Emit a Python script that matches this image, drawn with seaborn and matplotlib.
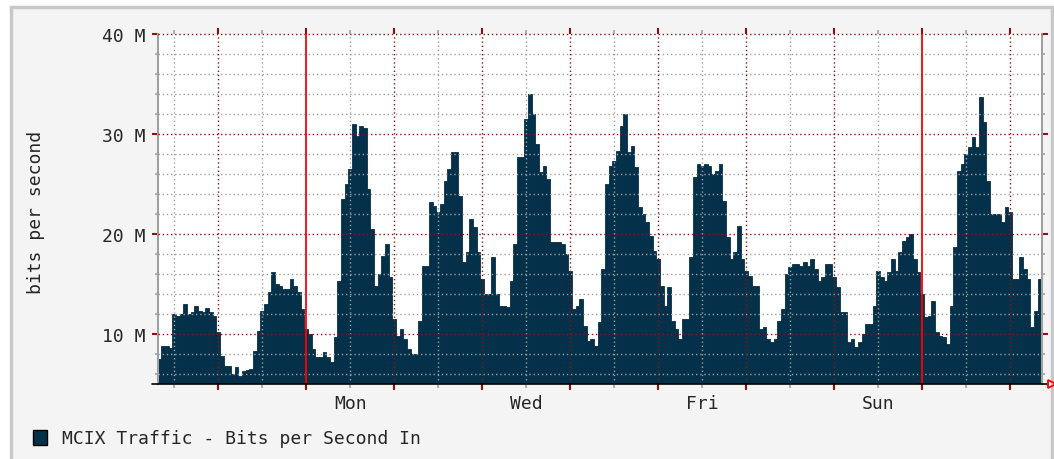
import numpy as np
import pandas as pd
import matplotlib
matplotlib.use("Agg")
import matplotlib.pyplot as plt
from matplotlib.patches import Rectangle
import seaborn as sns

# -----------------------------
# Data (Mbit/s, one value per hour, hour 0 = Monday 00:00)
# -----------------------------

sat_a = [7.5, 8.8, 8.8, 8.6, 12.0, 11.8, 12.0, 13.0, 12.0, 12.2, 12.8, 12.3,
         12.2, 12.6, 12.2, 11.8]
sun_a = [10.2, 7.8, 6.8, 6.8, 6.0, 6.7, 5.8, 6.3, 6.4, 6.5, 8.3, 10.3,
         12.3, 13.0, 14.2, 16.2, 15.0, 14.8, 14.5, 14.5, 15.5, 14.8, 14.2, 12.5]
mon_a = [10.5, 10.0, 8.5, 7.7, 7.7, 8.2, 7.7, 7.2, 9.7, 15.3, 23.5, 25.0,
         26.5, 31.0, 29.8, 30.8, 30.6, 24.5, 20.5, 14.8, 16.0, 17.8, 19.0, 15.7]
tue_a = [11.5, 9.8, 10.5, 9.5, 8.5, 8.0, 8.0, 11.3, 16.8, 16.8, 23.2, 22.8,
         22.2, 23.0, 25.3, 26.5, 28.2, 28.2, 23.8, 17.2, 18.2, 21.5, 20.7, 18.2]
wed_a = [15.5, 14.0, 14.0, 17.7, 14.0, 12.8, 12.8, 12.7, 15.3, 19.0, 27.7, 27.7,
         31.5, 34.0, 32.0, 29.0, 26.2, 26.8, 25.5, 19.2, 19.2, 19.2, 19.0, 18.0]
thu_a = [16.3, 12.5, 12.8, 13.5, 10.8, 9.3, 9.5, 8.8, 11.2, 16.5, 25.0, 26.8,
         27.3, 28.3, 30.8, 32.0, 28.2, 28.8, 26.7, 22.7, 22.0, 21.2, 19.8, 18.3]
fri_a = [17.5, 14.8, 12.8, 14.7, 11.3, 10.5, 9.5, 11.5, 11.5, 17.7, 25.7, 27.0,
         26.8, 27.0, 26.8, 26.0, 26.3, 27.0, 23.3, 19.7, 17.5, 18.2, 20.8, 17.5]
sat_b = [16.3, 15.8, 14.8, 14.8, 10.5, 10.7, 9.5, 9.2, 9.5, 11.3, 12.5, 16.0,
         16.7, 17.0, 17.0, 16.8, 17.2, 16.8, 17.5, 16.5, 15.3, 15.7, 17.0, 17.0]
sun_b = [15.7, 14.7, 12.2, 12.2, 9.2, 9.5, 8.7, 9.2, 10.0, 11.0, 11.0, 12.8,
         16.3, 15.7, 15.3, 16.2, 17.5, 16.3, 18.2, 19.3, 19.7, 20.0, 17.5, 16.2]
mon_b = [14.0, 11.7, 11.8, 13.3, 10.2, 9.8, 9.7, 9.0, 12.8, 18.7, 26.3, 27.0,
         28.0, 28.7, 29.7, 28.7, 33.7, 31.2, 25.3, 22.0, 22.0, 22.0, 21.2, 22.7]
tue_b = [22.2, 15.5, 15.5, 17.7, 16.5, 15.5, 10.7, 12.3, 15.5]

day_names = ["Mon", "Wed", "Fri", "Sun"]
day_label_hours = [12, 60, 108, 156]
ytick_values = [10, 20, 30, 40]
ytick_labels = ["10 M", "20 M", "30 M", "40 M"]

traffic = np.concatenate([sat_a, sun_a, mon_a, tue_a, wed_a, thu_a,
                          fri_a, sat_b, sun_b, mon_b, tue_b])
hours = np.arange(-40, -40 + len(traffic))
df = pd.DataFrame({"hour": hours, "mbps": traffic})

# -----------------------------
# Style
# -----------------------------

NAVY = "#05304a"
GRAY = "#a0a0a0"
DRED = "#8e1111"
RED = "#ff0000"
DOT = (0, (1, 2))

sns.set_style("white")
plt.rcParams["font.family"] = ["DejaVu Sans Mono", "DejaVu Sans"]

W, H = 1054, 460
fig = plt.figure(figsize=(W / 100, H / 100), dpi=100)
fig.patch.set_facecolor("white")

# outer panel
fig.patches.append(Rectangle((11 / W, -10 / H), 1041 / W, 462 / H,
                             transform=fig.transFigure, facecolor="#f4f4f4",
                             edgecolor="#c8c8c8", linewidth=2.5, zorder=-10))

ax = fig.add_axes([158 / W, 75 / H, 884 / W, 350 / H])
ax.set_facecolor("white")

# -----------------------------
# Traffic area (one step per hour)
# -----------------------------

sns.histplot(data=df, x="hour", weights="mbps", discrete=True, element="bars",
             shrink=1, fill=True, color=NAVY, alpha=1, edgecolor=NAVY,
             linewidth=0.6, ax=ax, zorder=1)

ax.set_xlim(-40.4, 200.7)
ax.set_ylim(5, 40)
ax.set_xlabel("")
ax.set_ylabel("")

# -----------------------------
# Grid (drawn over the data)
# -----------------------------

for v in range(6, 40, 2):
    if v % 10:
        ax.axhline(v, color=GRAY, lw=1, ls=DOT, zorder=3)
for v in ytick_values:
    ax.axhline(v, color=DRED, lw=1, ls=DOT, zorder=4, clip_on=(v != 40))

for h in np.arange(-36, 201, 24):
    ax.axvline(h, color=GRAY, lw=1, ls=DOT, zorder=3)
for h in np.arange(-24, 201, 24):
    if h % 168 == 0:
        ax.axvline(h, color=RED, lw=1.3, zorder=5)
    else:
        ax.axvline(h, color=DRED, lw=1, ls=DOT, zorder=4)

# -----------------------------
# Axes, ticks, labels
# -----------------------------

for side in ["left", "right"]:
    ax.spines[side].set_color("#a0a0a0")
    ax.spines[side].set_linewidth(1.5)
ax.spines["top"].set_visible(False)
ax.spines["bottom"].set_visible(False)

ax.set_yticks(ytick_values)
ax.set_yticklabels(ytick_labels)
ax.set_yticks(np.arange(6, 40, 2), minor=True)
ax.tick_params(axis="y", which="major", left=True, right=True, direction="out",
               length=4, width=1.5, color=DRED, labelsize=13, pad=5)
ax.tick_params(axis="y", which="minor", left=True, right=True, direction="out",
               length=2.5, width=1.2, color=GRAY)

ax.set_xticks(np.arange(-24, 201, 24))
ax.set_xticks(np.arange(-36, 201, 24), minor=True)
ax.tick_params(axis="x", which="major", bottom=True, top=True, direction="out",
               length=4, width=1.5, color=DRED, labelbottom=False)
ax.tick_params(axis="x", which="minor", bottom=True, top=True, direction="out",
               length=3, width=1.2, color=GRAY)

for h, name in zip(day_label_hours, day_names):
    ax.text(h, -0.055, name, transform=ax.get_xaxis_transform(),
            ha="center", va="center", fontsize=13)

# x axis line with arrow
ax.plot([-42, 202.4], [5, 5], color="black", lw=1.2, clip_on=False, zorder=6)
ax.plot([203.3], [5], marker=">", ms=6, mfc="none", mec=RED, mew=1.3,
        clip_on=False, zorder=6)

fig.text(36 / W, 1 - 212 / H, "bits per second", rotation=90,
         ha="center", va="center", fontsize=13)

# Legend
fig.patches.append(Rectangle((33 / W, 1 - 446 / H), 14 / W, 15 / H,
                             transform=fig.transFigure, facecolor=NAVY,
                             edgecolor="black", linewidth=1, zorder=2))
fig.text(62 / W, 1 - 439 / H, "MCIX Traffic - Bits per Second In",
         ha="left", va="center", fontsize=13)

fig.savefig("out.png", dpi=100)
plt.close()
